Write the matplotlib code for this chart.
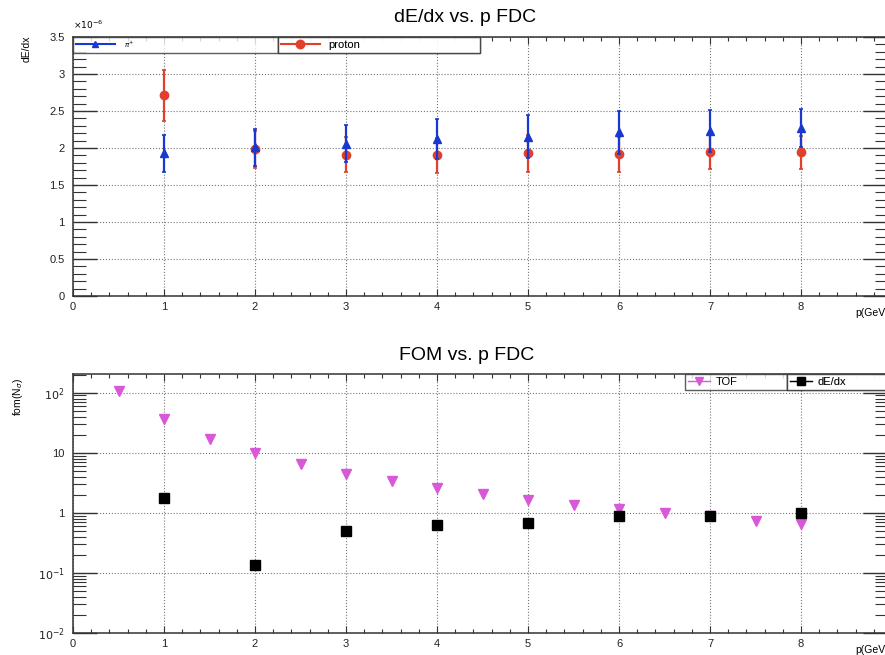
import numpy as np
import matplotlib
matplotlib.use('Agg')
import matplotlib.pyplot as plt
from matplotlib.lines import Line2D
from matplotlib.ticker import MultipleLocator, FixedLocator, FixedFormatter, LogLocator, NullFormatter

plt.rcParams['font.family'] = ['Liberation Sans', 'DejaVu Sans']

# dE/dx vs p (values in units of 1e-6)
p_vals = [1, 2, 3, 4, 5, 6, 7, 8]
pion_dedx = [1.93, 2.01, 2.06, 2.12, 2.15, 2.21, 2.23, 2.27]
pion_err = [0.25, 0.25, 0.25, 0.27, 0.29, 0.29, 0.28, 0.26]
proton_dedx = [2.71, 1.98, 1.91, 1.90, 1.93, 1.915, 1.94, 1.94]
proton_err = [0.34, 0.25, 0.24, 0.24, 0.25, 0.24, 0.23, 0.22]

# FOM vs p
p_tof = [0.5, 1, 1.5, 2, 2.5, 3, 3.5, 4, 4.5, 5, 5.5, 6, 6.5, 7, 7.5, 8]
fom_tof = [107, 36, 17.1, 10, 6.5, 4.5, 3.34, 2.57, 2.04, 1.66, 1.35, 1.16, 0.98, 0.87, 0.745, 0.665]
fom_dedx = [1.78, 0.136, 0.50, 0.64, 0.68, 0.89, 0.90, 1.01]

blue = '#1838d0'
red = '#e0402c'
magenta = '#d858d8'

W, H = 885, 655
XMAX = 8.95
fig = plt.figure(figsize=(W / 100, H / 100), dpi=100)
ax1 = fig.add_axes([73 / W, (H - 296) / H, 91 * XMAX / W, 259 / H])
ax2 = fig.add_axes([73 / W, (H - 633) / H, 91 * XMAX / W, 259 / H])

def style_axes(ax):
    for s in ax.spines.values():
        s.set_linewidth(1.1)
        s.set_color('#333333')
    ax.grid(True, which='major', linestyle=':', color='#777777', linewidth=0.8)
    ax.set_axisbelow(True)
    ax.set_xlim(0, XMAX)
    ax.xaxis.set_major_locator(MultipleLocator(1))
    ax.xaxis.set_minor_locator(MultipleLocator(0.2))
    ax.tick_params(axis='x', which='major', direction='in', length=5, width=0.8,
                   top=True, labelsize=8, pad=4, colors='#333333', labelcolor='#222222')
    ax.tick_params(axis='x', which='minor', direction='in', length=3, width=0.8,
                   top=True, colors='#333333')
    ax.tick_params(axis='y', which='major', direction='in', length=17, width=1.0,
                   right=True, labelsize=8, pad=6, colors='#333333', labelcolor='#222222')
    ax.tick_params(axis='y', which='minor', direction='in', length=9, width=0.8,
                   right=True, colors='#333333')

def boxed_legend(ax, handle, label, x0, w, hlen, tpad):
    leg = ax.legend([handle], [label], loc='upper left', bbox_to_anchor=(x0, 1.0, w, 0),
                    mode='expand', fontsize=8, frameon=True, fancybox=False, borderpad=0.25,
                    handlelength=hlen, handletextpad=tpad, borderaxespad=0)
    leg.get_frame().set_edgecolor('#333333')
    leg.get_frame().set_linewidth(1.0)
    ax.add_artist(leg)
    return leg

# top panel
style_axes(ax1)
ax1.errorbar(p_vals, proton_dedx, yerr=proton_err, fmt='o', color=red, ms=6,
             elinewidth=1.6, capsize=1.5, capthick=1.2, zorder=3)
ax1.errorbar(p_vals, pion_dedx, yerr=pion_err, fmt='^', color=blue, ms=5.5,
             elinewidth=1.6, capsize=1.5, capthick=1.2, zorder=4)
ax1.set_ylim(0, 3.5)
ax1.yaxis.set_major_locator(MultipleLocator(0.5))
ax1.yaxis.set_minor_locator(MultipleLocator(0.1))
ax1.yaxis.set_major_formatter(matplotlib.ticker.FuncFormatter(lambda v, _: f'{v:g}'))

leg_a = boxed_legend(ax1, Line2D([], [], color=blue, marker='^', lw=1.5, ms=5), r'$\pi^{+}$',
                     0, 205 / (91 * XMAX), 3.5, 0.8)
leg_a.get_texts()[0].set_fontsize(5)
boxed_legend(ax1, Line2D([], [], color=red, marker='o', lw=1.5, ms=6), 'proton',
             205 / (91 * XMAX), 202 / (91 * XMAX), 3.5, 0.8)

fig.text(465 / W, 1 - 17 / H, 'dE/dx vs. p FDC', ha='center', va='center', fontsize=14)
fig.text(27 / W, 1 - 36 / H, 'dE/dx', rotation=90, ha='center', va='top', fontsize=7.5)
fig.text(73 / W, 1 - 31 / H, r'$\times10^{-6}$', ha='left', va='bottom', fontsize=6.5)
fig.text(855 / W, 1 - 313 / H, 'p(GeV', ha='left', va='center', fontsize=7.5)

# bottom panel
style_axes(ax2)
ax2.set_yscale('log')
ax2.set_ylim(0.01, 205)
ax2.yaxis.set_major_locator(FixedLocator([0.01, 0.1, 1, 10, 100]))
ax2.yaxis.set_major_formatter(FixedFormatter([r'$10^{-2}$', r'$10^{-1}$', '1', '10', r'$10^{2}$']))
ax2.yaxis.set_minor_locator(LogLocator(base=10, subs=np.arange(2, 10)))
ax2.yaxis.set_minor_formatter(NullFormatter())
ax2.tick_params(axis='y', which='major', length=17)
ax2.tick_params(axis='y', which='minor', length=9)
ax2.plot(p_tof, fom_tof, linestyle='none', marker='v', color=magenta, ms=7, zorder=3)
ax2.plot(p_vals, fom_dedx, linestyle='none', marker='s', color='black', ms=6.5, zorder=4)

boxed_legend(ax2, Line2D([], [], color=magenta, marker='v', lw=1.0, ms=6), 'TOF',
             (685 - 73) / (91 * XMAX), 102 / (91 * XMAX), 2.0, 0.5)
boxed_legend(ax2, Line2D([], [], color='black', marker='s', lw=1.0, ms=5.5), 'dE/dx',
             (787 - 73) / (91 * XMAX), 1 - (787 - 73) / (91 * XMAX), 2.0, 0.5)

fig.text(467 / W, 1 - 355 / H, 'FOM vs. p FDC', ha='center', va='center', fontsize=14)
fig.text(18 / W, 1 - 378 / H, r'fom(N$_{\sigma}$)', rotation=90, ha='center', va='top', fontsize=7.5)
fig.text(855 / W, 1 - 650 / H, 'p(GeV', ha='left', va='center', fontsize=7.5)

fig.savefig('out.png', dpi=100)
